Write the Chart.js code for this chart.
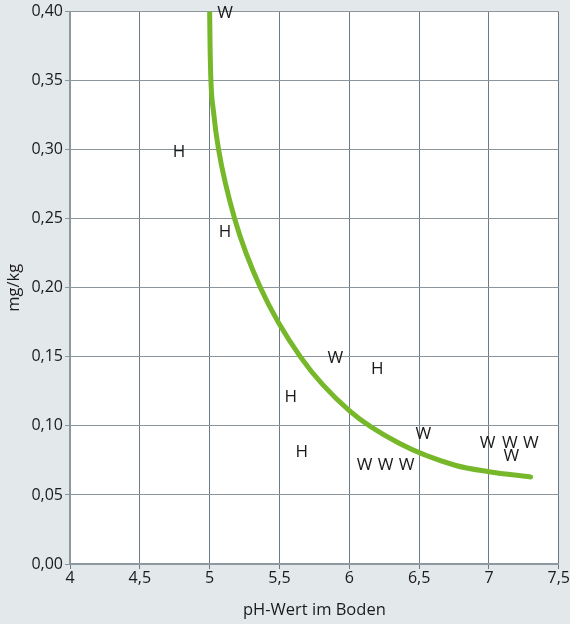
<!DOCTYPE html>
<html>
<head>
<meta charset="utf-8">
<script src="https://cdn.jsdelivr.net/npm/chart.js@4.4.0/dist/chart.umd.min.js"></script>
<style>
  html, body { margin:0; padding:0; background:#e3e8eb; }
  #wrap { width:570px; height:624px; }
</style>
</head>
<body>
<div id="wrap"><canvas id="c" width="570" height="624"></canvas></div>
<script>
// curve (pH vs mg/kg)
const curvePH  = [5.0, 5.003, 5.009, 5.027, 5.064, 5.179, 5.364, 5.65, 6.0, 6.357, 6.757, 7.0, 7.298];
const curveMg  = [0.40, 0.375, 0.35, 0.328, 0.30, 0.25, 0.20, 0.15, 0.111, 0.0874, 0.0715, 0.0668, 0.063];

// single letter marks
const markPH    = [5.11, 4.78, 5.11, 5.9, 6.2, 5.58, 5.66, 6.53, 6.11, 6.26, 6.41, 6.99, 7.15, 7.30, 7.16];
const markMg    = [0.399, 0.298, 0.240, 0.149, 0.141, 0.121, 0.081, 0.094, 0.0715, 0.0715, 0.0715, 0.0874, 0.0874, 0.0874, 0.078];
const markLabel = ['W', 'H', 'H', 'W', 'H', 'H', 'H', 'W', 'W', 'W', 'W', 'W', 'W', 'W', 'W'];

const xTicks = [4, 4.5, 5, 5.5, 6, 6.5, 7, 7.5];
const yTicks = [0, 0.05, 0.10, 0.15, 0.20, 0.25, 0.30, 0.35, 0.40];

const FONT = "'Open Sans', 'Noto Sans', sans-serif";
const comma = (v, d) => v.toFixed(d).replace('.', ',');

const plotBg = {
  id: 'plotBg',
  beforeDraw(chart){
    const {ctx, chartArea:a} = chart;
    ctx.save();
    ctx.fillStyle = '#ffffff';
    ctx.fillRect(a.left, a.top, a.right - a.left, a.bottom - a.top);
    ctx.restore();
  }
};

const letters = {
  id: 'letters',
  afterDatasetsDraw(chart){
    const {ctx, scales} = chart;
    ctx.save();
    ctx.fillStyle = '#1a1a1a';
    ctx.font = "17px " + FONT;
    ctx.textAlign = 'center';
    ctx.textBaseline = 'middle';
    markLabel.forEach((t, i) => {
      ctx.fillText(t, scales.x.getPixelForValue(markPH[i]), scales.y.getPixelForValue(markMg[i]));
    });
    ctx.restore();
  }
};

new Chart(document.getElementById('c'), {
  type: 'scatter',
  data: {
    datasets: [{
      data: curvePH.map((x, i) => ({x: x, y: curveMg[i]})),
      showLine: true,
      borderColor: '#76b82a',
      borderWidth: 5,
      borderCapStyle: 'round',
      pointRadius: 0,
      cubicInterpolationMode: 'monotone'
    }]
  },
  options: {
    responsive: false,
    animation: false,
    layout: { padding: { top: 10, right: 10, left: 0, bottom: 0 } },
    plugins: { legend: { display: false }, tooltip: { enabled: false } },
    scales: {
      x: {
        type: 'linear', min: 4, max: 7.5,
        afterBuildTicks: s => { s.ticks = xTicks.map(v => ({value: v})); },
        afterFit: s => { s.height = 60; },
        grid: { color: '#6b7a84', lineWidth: 1, tickLength: 5 },
        border: { color: '#8d989f', width: 2 },
        ticks: { color: '#1a1a1a', font: { family: FONT, size: 16 }, padding: 0, maxRotation: 0,
                 callback: v => comma(v, Number.isInteger(v) ? 0 : 1) },
        title: { display: true, text: 'pH-Wert im Boden', color: '#1a1a1a',
                 font: { family: FONT, size: 16.5 }, padding: { top: 4 } }
      },
      y: {
        type: 'linear', min: 0, max: 0.4,
        afterBuildTicks: s => { s.ticks = yTicks.map(v => ({value: v})); },
        afterFit: s => { s.width = 70; },
        grid: { color: '#8a959c', lineWidth: 1, tickLength: 5 },
        border: { color: '#8d989f', width: 2 },
        ticks: { color: '#1a1a1a', font: { family: FONT, size: 16 }, padding: 2,
                 callback: v => comma(v, 2) },
        title: { display: true, text: 'mg/kg', color: '#1a1a1a',
                 font: { family: FONT, size: 16.5 }, padding: { bottom: 2 } }
      }
    }
  },
  plugins: [plotBg, letters]
});
</script>
</body>
</html>
